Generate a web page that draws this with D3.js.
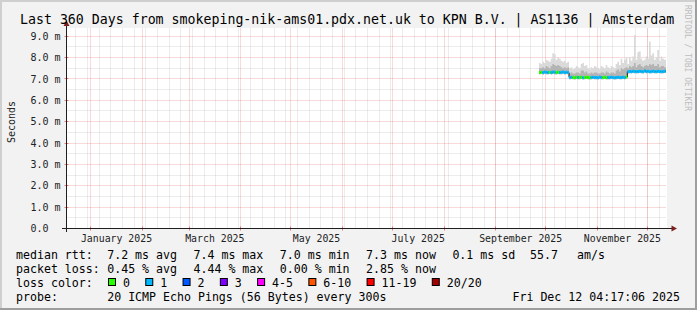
<!DOCTYPE html>
<html>
<head>
<meta charset="utf-8">
<script src="https://d3js.org/d3.v7.min.js"></script>
<style>
    body { margin: 0; background: #f2f2f2; }
    svg text { font-family: "DejaVu Sans Mono", monospace; white-space: pre; }
</style>
<title>smokeping 360 days</title>
</head>
<body>
<div id="chart"></div>
<script>
    // ---- data ----
    const firstDay = new Date(2025, 8, 27);          // first column with data
    const lastStamp = new Date(2025, 11, 12, 4, 17); // graph end
    const graphStart = new Date(2024, 11, 17, 12);
    const graphEnd = new Date(2025, 11, 12, 12);

    // daily median rtt (ms)
    const medianMs = [
        7.30, 7.31, 7.30, 7.32, 7.31, 7.30, 7.31, 7.30, 7.32, 7.31, 7.30, 7.31, 7.30, 7.31, 7.32, 7.30, 7.31, 7.30,
        7.07, 7.08, 7.07, 7.06, 7.08, 7.07, 7.07, 7.08, 7.06, 7.07, 7.08, 7.07, 7.06, 7.07, 7.08, 7.07, 7.07, 7.06,
        7.08, 7.07, 7.07, 7.08, 7.06, 7.07, 7.07, 7.08, 7.07, 7.06, 7.07, 7.08, 7.07, 7.07, 7.08, 7.07, 7.09,
        7.34, 7.35, 7.34, 7.36, 7.35, 7.34, 7.35, 7.36, 7.35, 7.34, 7.38, 7.35, 7.36, 7.34, 7.35, 7.36, 7.35, 7.34,
        7.36, 7.35, 7.34, 7.35, 7.36
    ];
    // pings lost out of 20
    const lossCount = [
        0, 0, 1, 1, 1, 1, 0, 1, 1, 1, 0, 0, 1, 1, 1, 1, 1, 1,
        1, 1, 0, 0, 0, 1, 0, 0, 1, 0, 0, 0, 0, 1, 1, 1, 1, 1, 1, 1, 0, 0, 0, 1, 1, 1, 1, 1, 1, 1, 1, 1, 1, 1, 0,
        1, 1, 1, 1, 1, 1, 1, 1, 1, 1, 1, 1, 1, 1, 1, 1, 1, 1, 1, 1, 1, 1, 1
    ];
    // smoke: lowest ping, upper quartile, highest ping (ms)
    const smokeLo = [
        7.22, 7.23, 7.21, 7.24, 7.22, 7.22, 7.23, 7.21, 7.24, 7.22, 7.21, 7.23, 7.22, 7.22, 7.24, 7.21, 7.23, 7.22,
        6.99, 7.00, 6.99, 6.98, 7.00, 6.99, 6.99, 7.00, 6.98, 6.99, 7.00, 6.99, 6.98, 6.99, 7.00, 6.99, 6.99, 6.98,
        7.00, 6.99, 6.99, 7.00, 6.98, 6.99, 6.99, 7.00, 6.99, 6.98, 6.99, 7.00, 6.99, 6.99, 7.00, 6.99, 7.01,
        7.26, 7.27, 7.26, 7.28, 7.27, 7.26, 7.27, 7.28, 7.27, 7.26, 7.29, 7.27, 7.28, 7.26, 7.27, 7.28, 7.27, 7.26,
        7.28, 7.27, 7.26, 7.27, 7.28
    ];
    const smokeMid = [
        7.50, 7.50, 7.55, 7.50, 7.60, 7.55, 7.50, 7.60, 7.70, 7.65, 7.60, 7.65, 7.60, 7.55, 7.50, 7.55, 7.50, 7.55,
        7.25, 7.30, 7.25, 7.25, 7.30, 7.30, 7.25, 7.40, 7.40, 7.30, 7.35, 7.25, 7.25, 7.30, 7.25, 7.30, 7.30, 7.25,
        7.25, 7.30, 7.30, 7.25, 7.35, 7.30, 7.25, 7.30, 7.30, 7.25, 7.40, 7.45, 7.35, 7.50, 7.45, 7.50, 7.55,
        7.50, 7.60, 7.55, 7.60, 7.75, 7.55, 7.65, 7.70, 7.60, 7.55, 7.60, 7.65, 7.60, 7.70, 7.65, 7.70, 7.60, 7.60,
        7.70, 7.55, 7.60, 7.60, 7.55
    ];
    const smokeHi = [
        7.75, 7.70, 7.80, 7.75, 7.90, 7.85, 7.80, 7.95, 8.20, 8.15, 7.90, 8.00, 7.95, 7.85, 7.80, 7.85, 7.75, 7.80,
        7.50, 7.55, 7.45, 7.50, 7.60, 7.55, 7.50, 7.70, 7.75, 7.60, 7.65, 7.50, 7.45, 7.55, 7.50, 7.60, 7.55, 7.50,
        7.45, 7.60, 7.55, 7.50, 7.65, 7.55, 7.50, 7.60, 7.55, 7.50, 7.70, 7.80, 7.65, 7.95, 7.75, 7.90, 8.00,
        7.70, 8.00, 7.85, 8.05, 9.05, 7.90, 8.25, 8.30, 7.95, 7.85, 7.90, 8.05, 7.95, 8.75, 8.10, 8.20, 7.90, 8.00,
        8.35, 7.85, 8.05, 7.95, 7.90
    ];

    const yTicks = [0, 1, 2, 3, 4, 5, 6, 7, 8, 9];
    const yTickLabels = ["0.0  ", "1.0 m", "2.0 m", "3.0 m", "4.0 m", "5.0 m", "6.0 m", "7.0 m", "8.0 m", "9.0 m"];
    const monthLabels = ["January 2025", "March 2025", "May 2025", "July 2025", "September 2025", "November 2025"];

    const rttStats = ["7.2 ms avg", "7.4 ms max", "7.0 ms min", "7.3 ms now", "0.1 ms sd"];
    const amsStat = ["55.7", "am/s"];
    const lossStats = ["0.45 % avg", "4.44 % max", "0.00 % min", "2.85 % now"];
    const lossLegend = ["0", "1", "2", "3", "4-5", "6-10", "11-19", "20/20"];
    const lossColors = ["#26ff00", "#00b8ff", "#0059ff", "#7e00ff", "#ff00ff", "#ff5500", "#ff0000", "#a10000"];
    const probeText = "20 ICMP Echo Pings (56 Bytes) every 300s";
    const stampText = "Fri Dec 12 04:17:06 2025";
    const titleText = "Last 360 Days from smokeping-nik-ams01.pdx.net.uk to KPN B.V. | AS1136 | Amsterdam";

    // ---- layout ----
    const width = 697, height = 310;
    const plot = { left: 66.5, right: 666.5, top: 28.5, bottom: 228.5 };

    const days = medianMs.map((v, i) => d3.timeDay.offset(firstDay, i));
    const data = days.map((d, i) => ({
        date: d, next: i < days.length - 1 ? days[i + 1] : d3.timeDay.offset(d, 1),
        med: medianMs[i], loss: lossCount[i], lo: smokeLo[i], mid: smokeMid[i], hi: smokeHi[i]
    }));

    const xScale = d3.scaleTime().domain([graphStart, graphEnd]).range([plot.left, plot.right]);
    const yScale = d3.scaleLinear().domain([0, 9.36]).range([plot.bottom, plot.top]);
    const snap = v => Math.round(v - 0.5) + 0.5;

    function lossIndex(n) {
        if (n <= 3) return n;
        if (n <= 5) return 4;
        if (n <= 10) return 5;
        if (n <= 19) return 6;
        return 7;
    }

    const svg = d3.select("#chart").append("svg")
        .attr("width", width).attr("height", height)
        .style("display", "block");

    // background + 3d frame
    svg.append("rect").attr("width", width).attr("height", height).attr("fill", "#f2f2f2");
    svg.append("path").attr("d", `M0,0 H${width} V2 H2 V${height} H0 Z`).attr("fill", "#cfcfcf");
    svg.append("path").attr("d", `M${width},${height} H0 V${height - 2} H${width - 2} V0 H${width} Z`).attr("fill", "#9e9e9e");

    // canvas
    svg.append("rect")
        .attr("x", 67).attr("y", 28).attr("width", 600).attr("height", 200)
        .attr("fill", "#ffffff");

    // grid
    const minorCol = "rgba(143,143,143,0.35)", majorCol = "rgba(222,79,79,0.42)";
    const grid = svg.append("g");
    const minorX = d3.timeMonday.range(graphStart, graphEnd);
    const majorX = d3.timeMonth.range(graphStart, graphEnd);
    grid.selectAll(".vmin").data(minorX).join("line")
        .attr("x1", d => snap(xScale(d))).attr("x2", d => snap(xScale(d)))
        .attr("y1", plot.top).attr("y2", plot.bottom)
        .attr("stroke", minorCol).attr("stroke-dasharray", "1,1");
    const minorY = d3.range(0.5, 9.4, 1);
    grid.selectAll(".hmin").data(minorY).join("line")
        .attr("x1", plot.left).attr("x2", plot.right)
        .attr("y1", d => snap(yScale(d))).attr("y2", d => snap(yScale(d)))
        .attr("stroke", minorCol).attr("stroke-dasharray", "1,1");
    grid.selectAll(".vmaj").data(majorX).join("line")
        .attr("x1", d => snap(xScale(d))).attr("x2", d => snap(xScale(d)))
        .attr("y1", plot.top).attr("y2", plot.bottom)
        .attr("stroke", majorCol).attr("stroke-dasharray", "1,1");
    grid.selectAll(".hmaj").data(yTicks.slice(1)).join("line")
        .attr("x1", plot.left).attr("x2", plot.right)
        .attr("y1", d => snap(yScale(d))).attr("y2", d => snap(yScale(d)))
        .attr("stroke", majorCol).attr("stroke-dasharray", "1,1");

    // smoke
    const smokeData = data.concat([{ date: lastStamp, lo: smokeLo[smokeLo.length - 1], mid: smokeMid[smokeMid.length - 1], hi: smokeHi[smokeHi.length - 1], med: medianMs[medianMs.length - 1] }]);
    svg.append("path").datum(smokeData)
        .attr("fill", "#dadada")
        .attr("d", d3.area().curve(d3.curveStepAfter)
            .x(d => xScale(d.date)).y0(d => yScale(d.lo)).y1(d => yScale(d.hi)));
    svg.append("path").datum(smokeData)
        .attr("fill", "#b4b4b4")
        .attr("d", d3.area().curve(d3.curveStepAfter)
            .x(d => xScale(d.date)).y0(d => yScale(d.lo)).y1(d => yScale(d.mid)));

    // median: thin dark step line, then loss coloured segments
    svg.append("path").datum(smokeData)
        .attr("fill", "none").attr("stroke", "#111").attr("stroke-width", 1)
        .attr("d", d3.line().curve(d3.curveStepAfter)
            .x(d => xScale(d.date)).y(d => yScale(d.med)));
    svg.append("g").selectAll("path").data(data).join("path")
        .attr("fill", "none")
        .attr("stroke", d => lossColors[lossIndex(d.loss)])
        .attr("stroke-width", 3)
        .attr("d", d => `M${xScale(d.date)},${yScale(d.med)} H${xScale(d.next)}`);

    // axes
    const axisCol = "#1f1f1f", arrowCol = "#801f1f";
    svg.append("g").selectAll("line").data(majorX).join("line")
        .attr("x1", d => snap(xScale(d))).attr("x2", d => snap(xScale(d)))
        .attr("y1", plot.bottom - 2).attr("y2", plot.bottom + 2)
        .attr("stroke", "rgba(222,79,79,0.7)");
    svg.append("g").selectAll("line").data(yTicks.slice(1)).join("line")
        .attr("x1", plot.left - 2).attr("x2", plot.left + 2)
        .attr("y1", d => snap(yScale(d))).attr("y2", d => snap(yScale(d)))
        .attr("stroke", "rgba(222,79,79,0.7)");
    svg.append("line").attr("x1", 62).attr("x2", 672).attr("y1", plot.bottom).attr("y2", plot.bottom)
        .attr("stroke", axisCol);
    svg.append("line").attr("x1", plot.left).attr("x2", plot.left).attr("y1", 232).attr("y2", 25)
        .attr("stroke", axisCol);
    svg.append("path").attr("d", `M${plot.left},20.5 L${plot.left - 3},26 L${plot.left + 3},26 Z`).attr("fill", arrowCol);
    svg.append("path").attr("d", `M677,${plot.bottom} L671.5,${plot.bottom - 3} L671.5,${plot.bottom + 3} Z`).attr("fill", arrowCol);

    // y labels
    svg.append("g").selectAll("text").data(yTicks).join("text")
        .attr("x", 60.5).attr("y", d => yScale(d)).attr("dy", "0.36em")
        .attr("text-anchor", "end").attr("font-size", "10px").attr("fill", "#222")
        .text((d, i) => yTickLabels[i]);

    // x labels, centred in the labelled month
    const labelMonths = d3.timeMonth.every(2).range(new Date(2025, 0, 1), graphEnd);
    svg.append("g").selectAll("text").data(labelMonths).join("text")
        .attr("x", d => (xScale(d) + xScale(d3.timeMonth.offset(d, 1))) / 2)
        .attr("y", 241.8)
        .attr("text-anchor", "middle").attr("font-size", "9.85px").attr("fill", "#222")
        .text((d, i) => monthLabels[i]);

    // title, axis title, watermark
    svg.append("text").attr("x", 20).attr("y", 24).attr("font-size", "13.25px").attr("fill", "#000")
        .text(titleText);
    svg.append("text").attr("transform", "translate(14.5,122) rotate(-90)")
        .attr("text-anchor", "middle").attr("font-size", "10px").attr("fill", "#222")
        .text("Seconds");
    svg.append("text").attr("transform", "translate(685,5) rotate(90)")
        .attr("font-size", "8px").attr("fill", "#bdbdbd")
        .text("RRDTOOL / TOBI OETIKER");

    // legend
    const lg = svg.append("g").attr("font-size", "11.6px").attr("fill", "#000");
    const rows = [258.5, 272.5, 286.5, 300.5];
    const col0 = 16, col1 = 107.2, colStep = 86.3;
    lg.append("text").attr("x", col0).attr("y", rows[0]).text("median rtt:");
    lg.selectAll(".rtt").data(rttStats).join("text")
        .attr("x", (d, i) => col1 + i * colStep).attr("y", rows[0]).text(d => d);
    lg.append("text").attr("x", 530).attr("y", rows[0]).text(amsStat[0]);
    lg.append("text").attr("x", 577).attr("y", rows[0]).text(amsStat[1]);

    lg.append("text").attr("x", col0).attr("y", rows[1]).text("packet loss:");
    lg.selectAll(".pl").data(lossStats).join("text")
        .attr("x", (d, i) => col1 + i * colStep).attr("y", rows[1]).text(d => d);

    lg.append("text").attr("x", col0).attr("y", rows[2]).text("loss color:");
    let bx = 108.5;
    lossLegend.forEach((lab, i) => {
        lg.append("rect").attr("x", bx).attr("y", 278.5).attr("width", 7).attr("height", 7)
            .attr("fill", lossColors[i]).attr("stroke", "#000").attr("stroke-width", 1);
        lg.append("text").attr("x", bx + 14.5).attr("y", rows[2]).text(lab);
        bx += 14.5 + lab.length * 6.98 + 15.8;
    });

    lg.append("text").attr("x", col0).attr("y", rows[3]).text("probe:");
    lg.append("text").attr("x", col1).attr("y", rows[3]).text(probeText);
    lg.append("text").attr("x", 680).attr("y", rows[3]).attr("text-anchor", "end").text(stampText);
</script>
</body>
</html>
